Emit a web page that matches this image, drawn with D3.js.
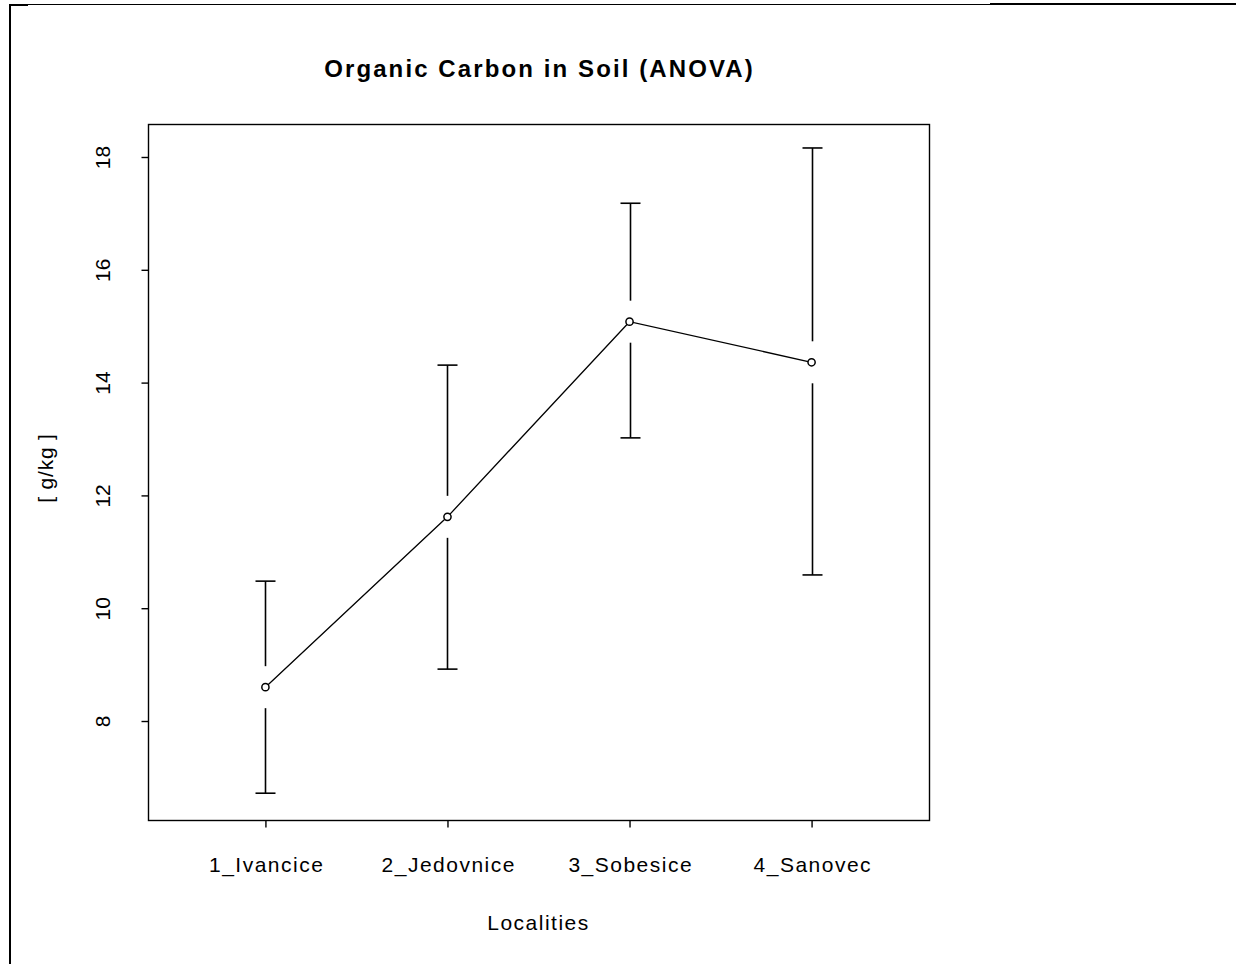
<!DOCTYPE html>
<html>
<head>
<meta charset="utf-8">
<script src="https://cdn.jsdelivr.net/npm/d3@7"></script>
<style>
  body { margin: 0; background: #fff; }
  text { font-family: "Liberation Sans", Arial, sans-serif; fill: #000; }
</style>
</head>
<body>
<div id="chart"></div>
<script>
// data
var localities = ["1_Ivancice", "2_Jedovnice", "3_Sobesice", "4_Sanovec"];
var means = [8.60, 11.62, 15.08, 14.36];
var upper = [10.48, 14.31, 17.18, 18.16];
var lower = [6.72, 8.92, 13.02, 10.59];
var yTicks = [8, 10, 12, 14, 16, 18];

var svgWidth = 1236;
var svgHeight = 964;

var svg = d3.select("#chart")
  .append("svg")
  .attr("width", svgWidth)
  .attr("height", svgHeight);

// page border fragments
svg.append("line").attr("x1", 10).attr("x2", 990).attr("y1", 4.5).attr("y2", 4.5)
  .attr("stroke", "#000").attr("stroke-width", 1);
svg.append("line").attr("x1", 990).attr("x2", 1236).attr("y1", 4).attr("y2", 4)
  .attr("stroke", "#000").attr("stroke-width", 2);
svg.append("line").attr("x1", 10).attr("x2", 28).attr("y1", 5).attr("y2", 5)
  .attr("stroke", "#000").attr("stroke-width", 2);
svg.append("line").attr("x1", 10).attr("x2", 10).attr("y1", 4).attr("y2", 964)
  .attr("stroke", "#000").attr("stroke-width", 2);

// plot region
var box = {left: 148, top: 124, right: 929, bottom: 820};

var x = d3.scaleLinear().domain([0.355, 4.645]).range([box.left, box.right]);
var y = d3.scaleLinear().domain([6.245, 18.585]).range([box.bottom, box.top]);

svg.append("rect")
  .attr("x", box.left + 0.5).attr("y", box.top + 0.5)
  .attr("width", box.right - box.left).attr("height", box.bottom - box.top)
  .attr("fill", "none").attr("stroke", "#000").attr("stroke-width", 1.4);

// y axis
var leftAxis = d3.axisLeft(y).tickValues(yTicks).tickSize(7).tickFormat(d3.format("d"));
var yAxis = svg.append("g")
  .attr("transform", `translate(${box.left + 0.5},0)`)
  .call(leftAxis);
yAxis.select(".domain").remove();
yAxis.selectAll("line").attr("stroke-width", 1.4);
yAxis.selectAll("text")
  .attr("font-size", 21)
  .attr("font-family", "Liberation Sans, Arial, sans-serif")
  .attr("text-anchor", "middle")
  .attr("x", 0).attr("y", 0).attr("dy", 0)
  .attr("transform", "translate(-39,0) rotate(-90)");

// x axis
var bottomAxis = d3.axisBottom(x).tickValues([1, 2, 3, 4]).tickSize(7).tickPadding(0)
  .tickFormat(function (d) { return localities[d - 1]; });
var xAxis = svg.append("g")
  .attr("transform", `translate(0,${box.bottom + 0.5})`)
  .call(bottomAxis);
xAxis.select(".domain").remove();
xAxis.selectAll("line").attr("stroke-width", 1.4);
xAxis.selectAll("text")
  .attr("font-size", 21)
  .attr("font-family", "Liberation Sans, Arial, sans-serif")
  .attr("letter-spacing", "1.5px")
  .attr("y", 51).attr("dy", 0)
  .attr("dx", "0.75px");

// error bars with a gap around each point
var gap = 21;
var capHalf = 10;
var bars = svg.append("g").attr("stroke", "#000").attr("stroke-width", 1.6);
localities.forEach(function (loc, i) {
  var cx = Math.round(x(i + 1)) + 0.5;
  var ym = y(means[i]);
  bars.append("line").attr("x1", cx).attr("x2", cx).attr("y1", y(upper[i])).attr("y2", ym - gap);
  bars.append("line").attr("x1", cx).attr("x2", cx).attr("y1", ym + gap).attr("y2", y(lower[i]));
  bars.append("line").attr("x1", cx - capHalf).attr("x2", cx + capHalf).attr("y1", y(upper[i])).attr("y2", y(upper[i]));
  bars.append("line").attr("x1", cx - capHalf).attr("x2", cx + capHalf).attr("y1", y(lower[i])).attr("y2", y(lower[i]));
});

// connecting line
var line = d3.line()
  .x(function (d, i) { return x(i + 1); })
  .y(function (d) { return y(d); });
svg.append("path")
  .datum(means)
  .attr("d", line)
  .attr("fill", "none")
  .attr("stroke", "#000")
  .attr("stroke-width", 1.3);

// points
svg.selectAll("circle.pt")
  .data(means)
  .enter()
  .append("circle")
  .attr("class", "pt")
  .attr("cx", function (d, i) { return x(i + 1); })
  .attr("cy", function (d) { return y(d); })
  .attr("r", 3.6)
  .attr("fill", "#fff")
  .attr("stroke", "#000")
  .attr("stroke-width", 1.5);

// title and axis labels
svg.append("text")
  .attr("x", (box.left + box.right) / 2 + 1)
  .attr("y", 77)
  .attr("text-anchor", "middle")
  .attr("font-size", 24)
  .attr("font-weight", "bold")
  .attr("letter-spacing", "2.1px")
  .text("Organic Carbon in Soil (ANOVA)");

svg.append("text")
  .attr("x", (box.left + box.right) / 2 + 0)
  .attr("y", 930)
  .attr("text-anchor", "middle")
  .attr("font-size", 21)
  .attr("letter-spacing", "1.5px")
  .text("Localities");

svg.append("text")
  .attr("transform", `translate(53,${(box.top + box.bottom) / 2 - 4}) rotate(-90)`)
  .attr("text-anchor", "middle")
  .attr("font-size", 21)
  .attr("letter-spacing", "0.8px")
  .text("[ g/kg ]");
</script>
</body>
</html>
